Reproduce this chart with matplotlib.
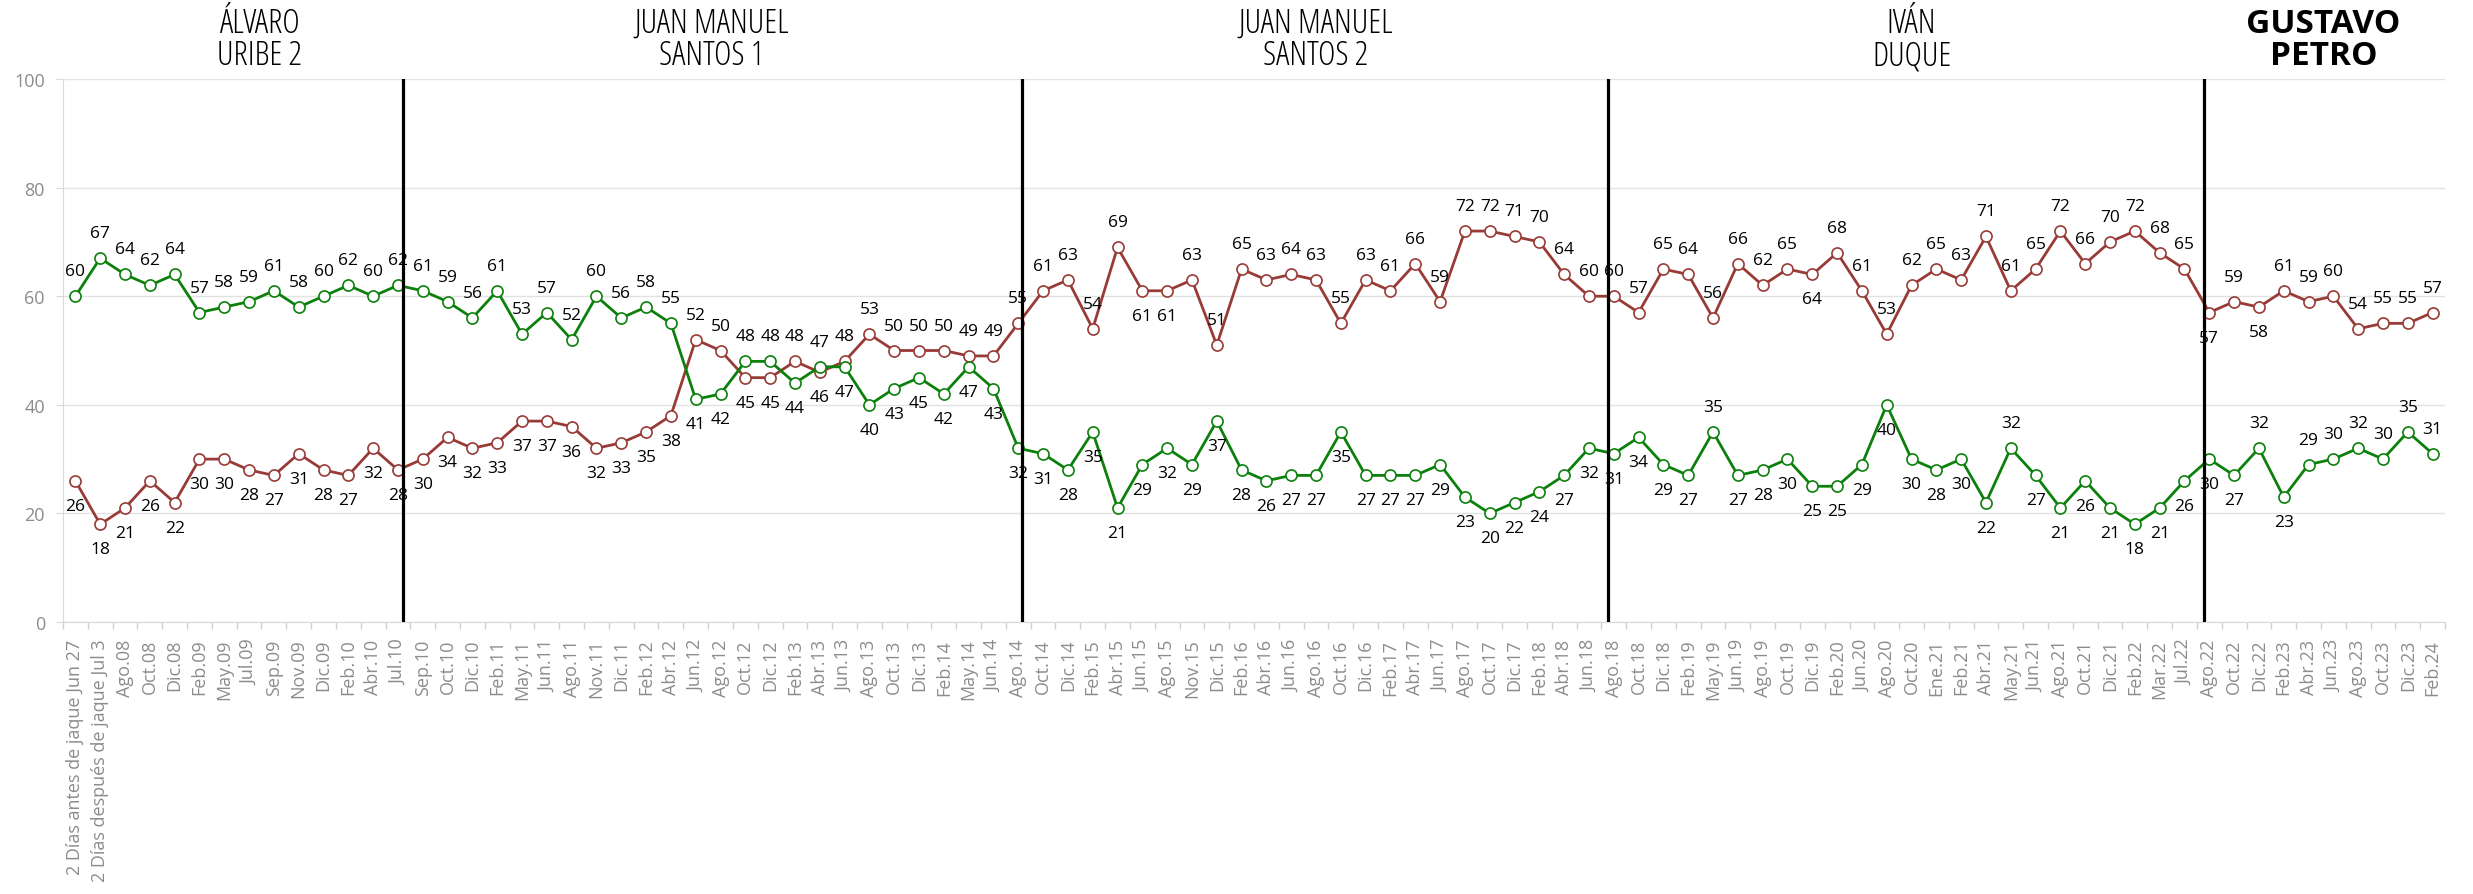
import matplotlib
matplotlib.use('Agg')
import matplotlib.pyplot as plt
import matplotlib.transforms as mtransforms
import numpy as np

periodos = ['2 Días antes de jaque Jun 27', '2 Días después de jaque Jul 3', 'Ago.08', 'Oct.08', 'Dic.08',
            'Feb.09', 'May.09', 'Jul.09', 'Sep.09', 'Nov.09', 'Dic.09', 'Feb.10', 'Abr.10', 'Jul.10',
            'Sep.10', 'Oct.10', 'Dic.10', 'Feb.11', 'May.11', 'Jun.11', 'Ago.11', 'Nov.11', 'Dic.11', 'Feb.12',
            'Abr.12', 'Jun.12', 'Ago.12', 'Oct.12', 'Dic.12', 'Feb.13', 'Abr.13', 'Jun.13', 'Ago.13', 'Oct.13',
            'Dic.13', 'Feb.14', 'May.14', 'Jun.14',
            'Ago.14', 'Oct.14', 'Dic.14', 'Feb.15', 'Abr.15', 'Jun.15', 'Ago.15', 'Nov.15', 'Dic.15', 'Feb.16',
            'Abr.16', 'Jun.16', 'Ago.16', 'Oct.16', 'Dic.16', 'Feb.17', 'Abr.17', 'Jun.17', 'Ago.17', 'Oct.17',
            'Dic.17', 'Feb.18', 'Abr.18', 'Jun.18',
            'Ago.18', 'Oct.18', 'Dic.18', 'Feb.19', 'May.19', 'Jun.19', 'Ago.19', 'Oct.19', 'Dic.19', 'Feb.20',
            'Jun.20', 'Ago.20', 'Oct.20', 'Ene.21', 'Feb.21', 'Abr.21', 'May.21', 'Jun.21', 'Ago.21', 'Oct.21',
            'Dic.21', 'Feb.22', 'Mar.22', 'Jul.22',
            'Ago.22', 'Oct.22', 'Dic.22', 'Feb.23', 'Abr.23', 'Jun.23', 'Ago.23', 'Oct.23', 'Dic.23', 'Feb.24']

aprueba = [60, 67, 64, 62, 64, 57, 58, 59, 61, 58, 60, 62, 60, 62,
           61, 59, 56, 61, 53, 57, 52, 60, 56, 58, 55, 41, 42, 48, 48, 44, 47, 47, 40, 43, 45, 42, 47, 43,
           32, 31, 28, 35, 21, 29, 32, 29, 37, 28, 26, 27, 27, 35, 27, 27, 27, 29, 23, 20, 22, 24, 27, 32,
           31, 34, 29, 27, 35, 27, 28, 30, 25, 25, 29, 40, 30, 28, 30, 22, 32, 27, 21, 26, 21, 18, 21, 26,
           30, 27, 32, 23, 29, 30, 32, 30, 35, 31]

desaprueba = [26, 18, 21, 26, 22, 30, 30, 28, 27, 31, 28, 27, 32, 28,
              30, 34, 32, 33, 37, 37, 36, 32, 33, 35, 38, 52, 50, 45, 45, 48, 46, 48, 53, 50, 50, 50, 49, 49,
              55, 61, 63, 54, 69, 61, 61, 63, 51, 65, 63, 64, 63, 55, 63, 61, 66, 59, 72, 72, 71, 70, 64, 60,
              60, 57, 65, 64, 56, 66, 62, 65, 64, 68, 61, 53, 62, 65, 63, 71, 61, 65, 72, 66, 70, 72, 68, 65,
              57, 59, 58, 61, 59, 60, 54, 55, 55, 57]

gobiernos = ['ÁLVARO\nURIBE 2', 'JUAN MANUEL\nSANTOS 1', 'JUAN MANUEL\nSANTOS 2', 'IVÁN\nDUQUE', 'GUSTAVO\nPETRO']

# layout: where the headers sit and where the black separators go (category units)
centros_titulo = [7.4, 25.65, 50.0, 74.0, 90.6]
separadores = [13.2, 38.15, 61.75, 85.8]

# label placement exceptions (Excel moved these by hand)
verde_arriba_extra = {66, 78, 88, 90, 91, 92, 93, 94, 95}
rojo_abajo_extra = {43, 44, 70, 86, 88}

VERDE = '#0B800B'
ROJO = '#983A36'
GRIS = '#8C8C8C'

plt.rcParams['font.family'] = ['Open Sans', 'DejaVu Sans']

fig = plt.figure(figsize=(24.73, 8.95), dpi=100)
ax = fig.add_axes([0.02547, 0.3039, 0.96321, 0.6067])

x = np.arange(len(periodos))
ax.plot(x, desaprueba, color=ROJO, lw=2.0, marker='o', ms=8, mfc='white', mec=ROJO, mew=1.2, zorder=3)
ax.plot(x, aprueba, color=VERDE, lw=2.0, marker='o', ms=8, mfc='white', mec=VERDE, mew=1.2, zorder=3)

for s in separadores:
    ax.axvline(s, color='black', lw=2.3, zorder=4)

for i in range(len(periodos)):
    verde_sup = aprueba[i] >= desaprueba[i]
    v_arriba = verde_sup or i in verde_arriba_extra
    r_arriba = (not verde_sup) and i not in rojo_abajo_extra
    for val, arriba in ((aprueba[i], v_arriba), (desaprueba[i], r_arriba)):
        ax.annotate(str(val), (i, val), xytext=(0, 18 if arriba else -18), textcoords='offset points',
                    ha='center', va='center', fontsize=12.5, color='black', zorder=5)

ax.set_xlim(-0.5, len(periodos) - 0.5)
ax.set_ylim(0, 100)
ax.set_yticks(range(0, 101, 20))
ax.set_xticks(x)
ax.set_xticklabels(periodos, rotation=90, fontsize=13, color=GRIS)
ax.set_xticks(np.arange(-0.5, len(periodos), 1), minor=True)
ax.tick_params(axis='x', which='major', length=0, pad=12)
ax.tick_params(axis='x', which='minor', length=5, color='#D0D0D0', width=1)
ax.tick_params(axis='y', length=5, color='#D9D9D9', labelsize=13, labelcolor=GRIS, pad=8)
ax.grid(axis='y', color='#E2E2E2', lw=1)
ax.set_axisbelow(True)
for side in ('top', 'right'):
    ax.spines[side].set_visible(False)
for side in ('left', 'bottom'):
    ax.spines[side].set_color('#D9D9D9')

trans = mtransforms.blended_transform_factory(ax.transData, fig.transFigure)
for k, (nombre, cx) in enumerate(zip(gobiernos, centros_titulo)):
    ax.text(cx, 0.955, nombre, transform=trans, ha='center', va='center', fontsize=24,
            family='Open Sans', fontstretch='condensed', linespacing=0.95,
            fontweight='bold' if k == len(gobiernos) - 1 else 'normal', clip_on=False)

fig.savefig('out.png', dpi=100)
